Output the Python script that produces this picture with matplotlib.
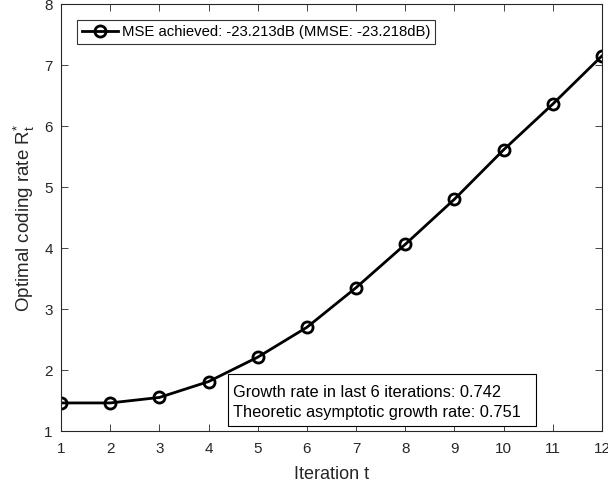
import matplotlib
matplotlib.use("Agg")
import matplotlib.pyplot as plt
from matplotlib.patches import Rectangle

# data
iterations = [1, 2, 3, 4, 5, 6, 7, 8, 9, 10, 11, 12]
rates = [1.46, 1.46, 1.55, 1.81, 2.21, 2.70, 3.35, 4.06, 4.80, 5.61, 6.36, 7.15]
legend_label = "MSE achieved: -23.213dB (MMSE: -23.218dB)"
note_text = "Growth rate in last 6 iterations: 0.742\nTheoretic asymptotic growth rate: 0.751"

plt.rcParams['font.family'] = ['Liberation Sans', 'DejaVu Sans']
plt.rcParams['mathtext.fontset'] = 'custom'
plt.rcParams['mathtext.rm'] = 'Liberation Sans'
plt.rcParams['mathtext.it'] = 'Liberation Sans:italic'
gray = '#262626'

fig = plt.figure(figsize=(6.08, 4.88), dpi=100)
ax = fig.add_axes([0.1003, 0.1168, 0.8898, 0.875])

ax.plot(iterations, rates, 'k-', lw=2, marker='o', markersize=8,
        markerfacecolor='none', markeredgewidth=2, label=legend_label)

ax.set_xlim(1, 12)
ax.set_ylim(1, 8)
ax.set_xticks(range(1, 13))
ax.set_yticks(range(1, 9))
ax.tick_params(direction='in', top=True, right=True, labelsize=11,
               colors=gray, length=5, width=0.6)
ax.tick_params(axis='x', pad=8)
ax.tick_params(axis='y', pad=6)
for s in ax.spines.values():
    s.set_color(gray)
    s.set_linewidth(0.8)

ax.set_xlabel("Iteration t", fontsize=13, color=gray, labelpad=7)
ax.set_ylabel(r"Optimal coding rate R$^{*}_{\mathrm{t}}$", fontsize=13.5, color=gray, labelpad=5)

leg = ax.legend(loc='upper left', bbox_to_anchor=(0.0295, 0.9626), fontsize=10.7,
                frameon=True, fancybox=False, handlelength=2.4, borderpad=0.35,
                handletextpad=0.27, borderaxespad=0)
leg.get_frame().set_edgecolor('k')
leg.get_frame().set_linewidth(0.8)

# annotation box (fixed size, like a MATLAB textbox)
ax.add_patch(Rectangle((0.3087, 0.0117), 0.569, 0.1215, transform=ax.transAxes,
                       facecolor='white', edgecolor='k', linewidth=0.8, zorder=3))
ax.text(0.318, 0.067, note_text, transform=ax.transAxes, fontsize=11.8,
        va='center', ha='left', linespacing=1.4, zorder=4)

fig.savefig("out.png", dpi=100)
